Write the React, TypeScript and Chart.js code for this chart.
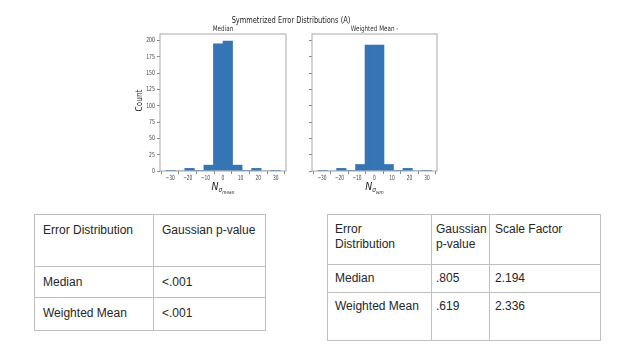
import React, { useEffect, useRef } from "react";
import { Chart, registerables } from "chart.js";

Chart.register(...registerables);

// ---------- data ----------
const figureTitle = "Symmetrized Error Distributions (A)";
const panelTitles = ["Median", "Weighted Mean -"];
const yAxisLabel = "Count";
const xLabelSubscripts = ["mean", "wm"];
const binCenters = [-29.79, -24.38, -18.96, -13.54, -8.13, -2.71, 2.71, 8.13, 13.54, 18.96, 24.38, 29.79];
const medianCounts = [1, 0, 4, 1, 9, 195, 199, 9, 1, 4, 0, 1];
const weightedMeanCounts = [1, 0, 4, 1, 10, 193, 193, 10, 1, 4, 0, 1];
const xRange = [-35.75, 35.75];
const yRange = [0, 210];
const xTickStep = 10;
const yTickStep = 25;

const table1Header = ["Error Distribution", "Gaussian p-value"];
const table1Rows = [
  ["Median", "<.001"],
  ["Weighted Mean", "<.001"],
];
const table2Header = [["Error", "Distribution"], ["Gaussian", "p-value"], ["Scale Factor"]];
const table2Rows = [
  ["Median", ".805", "2.194"],
  ["Weighted Mean", ".619", "2.336"],
];

// ---------- helpers ----------
const FONT = "'DejaVu Sans', sans-serif";

function drawText(
  ctx: CanvasRenderingContext2D,
  text: string,
  x: number,
  y: number,
  font: string,
  opts: { sx?: number; align?: CanvasTextAlign; baseline?: CanvasTextBaseline; rotate?: number; color?: string } = {}
) {
  ctx.save();
  ctx.translate(x, y);
  if (opts.rotate) ctx.rotate(opts.rotate);
  ctx.scale(opts.sx ?? 1, 1);
  ctx.font = font;
  ctx.fillStyle = opts.color ?? "#2a2a2a";
  ctx.textAlign = opts.align ?? "center";
  ctx.textBaseline = opts.baseline ?? "middle";
  ctx.fillText(text, 0, 0);
  ctx.restore();
}

function fmtTick(v: number) {
  return v < 0 ? "\u2212" + Math.abs(v) : String(v);
}

function makeChart(canvas: HTMLCanvasElement, panel: number) {
  const counts = panel === 0 ? medianCounts : weightedMeanCounts;
  const leftPad = panel === 0 ? 120 : 300;
  const yWidth = panel === 0 ? 40 : 12;
  const rightPad = panel === 0 ? 338 : 187;

  const textPlugin = {
    id: "panelText" + panel,
    afterDraw(chart: any) {
      const ctx: CanvasRenderingContext2D = chart.ctx;
      const area = chart.chartArea;
      const xs = chart.scales.x;
      const ys = chart.scales.y;
      // spines
      ctx.save();
      ctx.strokeStyle = "#a8a8a8";
      ctx.lineWidth = 1;
      ctx.strokeRect(area.left, area.top, area.right - area.left, area.bottom - area.top);
      ctx.restore();
      const tickFont = `7px ${FONT}`;
      // x tick labels
      xs.ticks.forEach((t: any) => {
        const px = xs.getPixelForValue(t.value);
        drawText(ctx, fmtTick(t.value), px, area.bottom + 7.5, tickFont, { sx: 0.62, color: "#444" });
      });
      // y tick labels (shared y: only left panel)
      if (panel === 0) {
        ys.ticks.forEach((t: any) => {
          const py = ys.getPixelForValue(t.value);
          drawText(ctx, fmtTick(t.value), area.left - 5, py, tickFont, { sx: 0.66, align: "right", color: "#444" });
        });
        drawText(ctx, figureTitle, 291, 20.5, `9.5px ${FONT}`, { sx: 0.7, color: "#222" });
        drawText(ctx, yAxisLabel, 139.5, (area.top + area.bottom) / 2 - 2, `8.5px ${FONT}`, {
          rotate: -Math.PI / 2,
          sx: 0.87,
          color: "#222",
        });
      }
      const cx = (area.left + area.right) / 2;
      drawText(ctx, panelTitles[panel], cx, 29, `7.5px ${FONT}`, { sx: 0.75, color: "#333" });
      // x label: N_{sigma_{sub}}
      const base = area.bottom + 19;
      const sxL = 0.85;
      ctx.save();
      ctx.font = `italic 11px ${FONT}`;
      const wN = ctx.measureText("N").width * sxL;
      ctx.font = `italic 7px ${FONT}`;
      const wS = ctx.measureText("\u03c3").width * sxL;
      ctx.font = `italic 5px ${FONT}`;
      const wSub = ctx.measureText(xLabelSubscripts[panel]).width * sxL;
      ctx.restore();
      const total = wN + wS + wSub;
      let x0 = cx - total / 2;
      drawText(ctx, "N", x0, base, `italic 11px ${FONT}`, { sx: sxL, align: "left", baseline: "alphabetic", color: "#222" });
      x0 += wN;
      drawText(ctx, "\u03c3", x0, base + 2, `italic 7px ${FONT}`, { sx: sxL, align: "left", baseline: "alphabetic", color: "#222" });
      x0 += wS;
      drawText(ctx, xLabelSubscripts[panel], x0, base + 3.5, `italic 5px ${FONT}`, {
        sx: sxL,
        align: "left",
        baseline: "alphabetic",
        color: "#222",
      });
    },
  };

  return new Chart(canvas, {
    type: "bar",
    data: {
      datasets: [
        {
          data: binCenters.map((c, i) => ({ x: c, y: counts[i] })),
          backgroundColor: "#3574b5",
          borderWidth: 0,
          barPercentage: 1,
          categoryPercentage: 1,
        },
      ],
    },
    options: {
      responsive: false,
      animation: false,
      devicePixelRatio: 1,
      layout: { padding: { left: leftPad, right: rightPad, top: 34, bottom: 9 } },
      plugins: { legend: { display: false }, title: { display: false }, tooltip: { enabled: false } },
      scales: {
        x: {
          type: "linear",
          min: xRange[0],
          max: xRange[1],
          offset: false,
          ticks: { display: false, stepSize: xTickStep, includeBounds: false },
          grid: { drawOnChartArea: false, drawTicks: true, tickLength: 3, color: "#888" },
          border: { display: false },
          afterFit: (s: any) => {
            s.height = 20;
          },
        },
        y: {
          type: "linear",
          min: yRange[0],
          max: yRange[1],
          ticks: { display: false, stepSize: yTickStep, includeBounds: false },
          grid: { drawOnChartArea: false, drawTicks: true, tickLength: 3, color: "#888" },
          border: { display: false },
          afterFit: (s: any) => {
            s.width = yWidth;
          },
        },
      },
    } as any,
    plugins: [textPlugin],
  });
}

// ---------- tables ----------
const tableFont: React.CSSProperties = {
  position: "absolute",
  borderCollapse: "collapse",
  tableLayout: "fixed",
  fontFamily: "'Liberation Sans', Arial, sans-serif",
  fontSize: 12,
  lineHeight: "15px",
  color: "#262626",
};

function cellStyle(h: number, padTop: number, padLeft: number): React.CSSProperties {
  return {
    height: h,
    border: "1px solid #c0c0c0",
    padding: `${padTop}px 2px 0 ${padLeft}px`,
    verticalAlign: "top",
    boxSizing: "border-box",
    whiteSpace: "nowrap",
  };
}

export default function App() {
  const leftRef = useRef<HTMLCanvasElement>(null);
  const rightRef = useRef<HTMLCanvasElement>(null);

  useEffect(() => {
    const c1 = makeChart(leftRef.current!, 0);
    const c2 = makeChart(rightRef.current!, 1);
    return () => {
      c1.destroy();
      c2.destroy();
    };
  }, []);

  const t1Rows = [52, 31, 33];
  const t2Rows = [50, 28, 48];
  const t2Pads = [7, 4, 5];

  return (
    <div style={{ position: "absolute", left: 0, top: 0, width: 624, height: 356, background: "#fff", overflow: "hidden" }}>
      <canvas ref={leftRef} width={624} height={200} style={{ position: "absolute", left: 0, top: 0, width: 624, height: 200 }} />
      <canvas ref={rightRef} width={624} height={200} style={{ position: "absolute", left: 0, top: 0, width: 624, height: 200 }} />

      <table style={{ ...tableFont, left: 34, top: 214, width: 231 }}>
        <colgroup>
          <col style={{ width: 119 }} />
          <col style={{ width: 112 }} />
        </colgroup>
        <tbody>
          <tr>
            {table1Header.map((h, i) => (
              <td key={i} style={cellStyle(t1Rows[0], 8, 8)}>
                {h}
              </td>
            ))}
          </tr>
          {table1Rows.map((r, ri) => (
            <tr key={ri}>
              {r.map((v, i) => (
                <td key={i} style={cellStyle(t1Rows[ri + 1], 8, 8)}>
                  {v}
                </td>
              ))}
            </tr>
          ))}
        </tbody>
      </table>

      <table style={{ ...tableFont, left: 327, top: 214, width: 273 }}>
        <colgroup>
          <col style={{ width: 104 }} />
          <col style={{ width: 58 }} />
          <col style={{ width: 111 }} />
        </colgroup>
        <tbody>
          <tr>
            {table2Header.map((lines, i) => (
              <td key={i} style={cellStyle(t2Rows[0], 7, t2Pads[i])}>
                {lines.map((l, li) => (
                  <div key={li}>{l}</div>
                ))}
              </td>
            ))}
          </tr>
          {table2Rows.map((r, ri) => (
            <tr key={ri}>
              {r.map((v, i) => (
                <td key={i} style={cellStyle(t2Rows[ri + 1], 6, t2Pads[i])}>
                  {v}
                </td>
              ))}
            </tr>
          ))}
        </tbody>
      </table>
    </div>
  );
}
